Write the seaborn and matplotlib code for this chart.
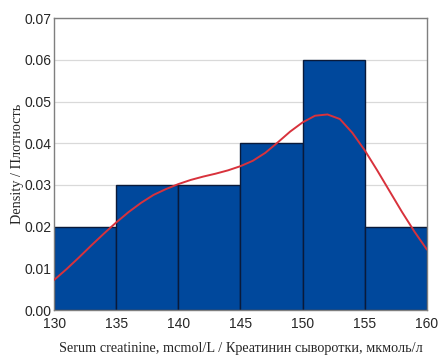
import numpy as np
import matplotlib
matplotlib.use("Agg")
import matplotlib.pyplot as plt
import seaborn as sns

# histogram bins and density heights
bin_edges = [130, 135, 140, 145, 150, 155, 160]
bin_density = [0.02, 0.03, 0.03, 0.04, 0.06, 0.02]

# density curve
curve_x = [130, 131, 132, 133, 134, 135, 136, 137, 138, 139, 140, 141, 142, 143, 144, 145,
           146, 147, 148, 149, 150, 151, 152, 153, 154, 155, 156, 157, 158, 159, 160]
curve_y = [0.0072, 0.0098, 0.0126, 0.0155, 0.0183, 0.0210, 0.0235, 0.0257, 0.0276, 0.0290,
           0.0302, 0.0312, 0.0320, 0.0327, 0.0335, 0.0345, 0.0358, 0.0377, 0.0402, 0.0428,
           0.0450, 0.0466, 0.0469, 0.0458, 0.0425, 0.0383, 0.0335, 0.0285, 0.0235, 0.0188, 0.0145]

y_ticks = [0.00, 0.01, 0.02, 0.03, 0.04, 0.05, 0.06, 0.07]
x_ticks = [130, 135, 140, 145, 150, 155, 160]

sns.set_style("white")
plt.rcParams["font.family"] = ["Liberation Sans", "DejaVu Sans"]

fig, ax = plt.subplots(figsize=(4.47, 3.63), dpi=100)
fig.subplots_adjust(left=0.121, right=0.955, top=0.950, bottom=0.146)

centers = [(bin_edges[i] + bin_edges[i + 1]) / 2 for i in range(len(bin_density))]
sns.histplot(x=centers, weights=bin_density, bins=bin_edges, stat="count",
             color="#00489C", edgecolor="#0A1A3A", linewidth=1.0, alpha=1, ax=ax, zorder=2)
sns.lineplot(x=curve_x, y=curve_y, color="#D8323C", linewidth=1.4, ax=ax, zorder=3)

ax.set_xlim(130, 160)
ax.set_ylim(0, 0.07)
ax.set_xticks(x_ticks)
ax.set_yticks(y_ticks)
ax.set_yticklabels([f"{v:.2f}" for v in y_ticks])
ax.yaxis.grid(True, color="#D9D9D9", linewidth=0.9, zorder=0)
ax.set_axisbelow(True)
ax.tick_params(axis="y", length=0, labelsize=10, pad=2)
ax.tick_params(axis="x", length=0, labelsize=10, pad=5)
for s in ax.spines.values():
    s.set_color("#7F7F7F")
    s.set_linewidth(1.0)

ax.set_xlabel("Serum creatinine, mcmol/L / Креатинин сыворотки, мкмоль/л",
              family=["Liberation Serif", "DejaVu Serif"], fontsize=10.3, labelpad=8)
ax.set_ylabel("Density / Плотность",
              family=["Liberation Serif", "DejaVu Serif"], fontsize=10.3, labelpad=0)

fig.savefig("out.png", dpi=100)
